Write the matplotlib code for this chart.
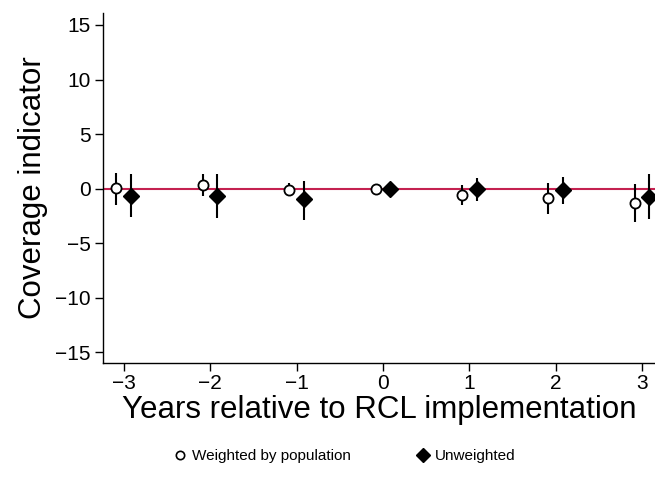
import matplotlib
matplotlib.use('Agg')

import numpy as np
import matplotlib.pyplot as plt
from matplotlib.lines import Line2D

plt.rcParams['font.family'] = ['Liberation Sans', 'DejaVu Sans']

# event-time coefficients and 95% CIs
years = [-3, -2, -1, 0, 1, 2, 3]

w_coef = [0.05, 0.3, -0.1, 0.0, -0.55, -0.85, -1.35]
w_lo = [-1.5, -0.7, -0.55, 0.0, -1.5, -2.3, -3.1]
w_hi = [1.4, 1.3, 0.55, 0.0, 0.35, 0.55, 0.45]

u_coef = [-0.65, -0.7, -1.0, 0.0, 0.0, -0.15, -0.75]
u_lo = [-2.65, -2.7, -2.85, 0.0, -1.1, -1.45, -2.75]
u_hi = [1.3, 1.3, 0.7, 0.0, 1.0, 1.1, 1.3]

OFF = 0.085  # horizontal nudge so the two series don't overlap

fig = plt.figure(figsize=(6.55, 4.96), dpi=100)
ax = fig.add_axes([103 / 655, 1 - 363 / 496, 1 - 103 / 655, (363 - 13) / 496])

x = np.array(years, dtype=float)
ax.axhline(0, color='#c42150', lw=1.5, zorder=1)

w_err = [np.array(w_coef) - np.array(w_lo), np.array(w_hi) - np.array(w_coef)]
u_err = [np.array(u_coef) - np.array(u_lo), np.array(u_hi) - np.array(u_coef)]

ax.errorbar(x - OFF, w_coef, yerr=w_err, fmt='none', ecolor='black', elinewidth=1.5,
            capsize=0, zorder=2)
ax.plot(x - OFF, w_coef, 'o', ms=7.3, mfc='white', mec='black', mew=1.3, ls='none', zorder=3)

ax.errorbar(x + OFF, u_coef, yerr=u_err, fmt='none', ecolor='black', elinewidth=1.5,
            capsize=0, zorder=2)
ax.plot(x + OFF, u_coef, 'D', ms=8.5, color='black', ls='none', zorder=3)

ax.set_xlim(-3.24, 3.15)
ax.set_ylim(-16, 16.1)
ax.set_yticks([-15, -10, -5, 0, 5, 10, 15])
ax.set_yticklabels(['\u221215', '\u221210', '\u22125', '0', '5', '10', '15'])
ax.set_xticks(years)
ax.set_xticklabels([str(y).replace('-', '\u2212') for y in years])

for s in ['top', 'right']:
    ax.spines[s].set_visible(False)
for s in ['left', 'bottom']:
    ax.spines[s].set_linewidth(1.0)
ax.tick_params(axis='both', labelsize=15, length=6, width=1.0, pad=3)
ax.tick_params(axis='x', pad=2)

ax.set_ylabel('Coverage indicator', fontsize=22.5, labelpad=5)
ax.set_xlabel('Years relative to RCL implementation', fontsize=22.5, labelpad=1.5)

handles = [
    Line2D([], [], marker='o', ls='none', ms=6, mfc='white', mec='black', mew=1.2,
           label='Weighted by population'),
    Line2D([], [], marker='D', ls='none', ms=7, color='black', label='Unweighted'),
]
fig.legend(handles=handles, loc='center', bbox_to_anchor=(344 / 655, 1 - 456 / 496),
           ncol=2, frameon=False, fontsize=11, handletextpad=0.3, columnspacing=4.2,
           handlelength=1.0)

fig.savefig('out.png', dpi=100, facecolor='white')
